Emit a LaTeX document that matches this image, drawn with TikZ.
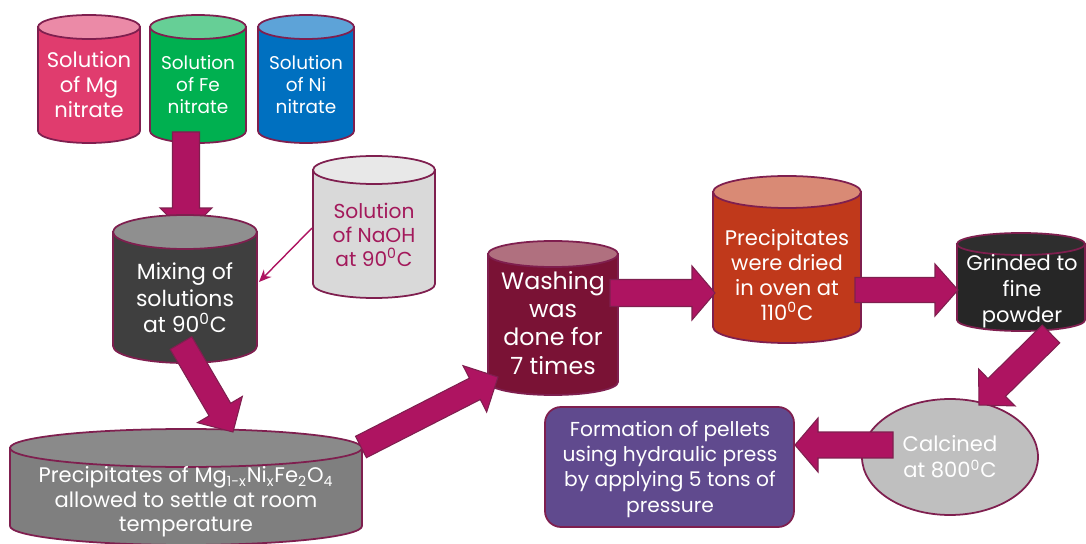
\documentclass[tikz,border=0pt]{standalone}
\usepackage{fontspec}
\setmainfont{Poppins}
\usetikzlibrary{calc,arrows.meta}
\definecolor{edge}{HTML}{7F1F4F}
\definecolor{arr}{HTML}{AE1461}
\definecolor{mgB}{HTML}{E03C6E}\definecolor{mgT}{HTML}{EB8AA7}
\definecolor{feB}{HTML}{00B050}\definecolor{feT}{HTML}{66CF96}
\definecolor{niB}{HTML}{0070C0}\definecolor{niT}{HTML}{5DA3D8}
\definecolor{mixB}{HTML}{3F3F3F}\definecolor{mixT}{HTML}{8F8F8F}
\definecolor{naB}{HTML}{D9D9D9}\definecolor{naT}{HTML}{E8E8E8}
\definecolor{naTxt}{HTML}{A3195B}
\definecolor{prB}{HTML}{7F7F7F}\definecolor{prT}{HTML}{8A8A8A}
\definecolor{waB}{HTML}{7A1235}\definecolor{waT}{HTML}{B0707F}
\definecolor{drB}{HTML}{C0391B}\definecolor{drT}{HTML}{D98A75}
\definecolor{grB}{HTML}{262626}\definecolor{grT}{HTML}{2E2E2E}
\definecolor{caB}{HTML}{BFBFBF}
\definecolor{foB}{HTML}{604A8E}
\tikzset{
  lbl/.style={align=center,text=white,inner sep=0pt},
  blockarrow/.style={fill=arr,draw=edge,line width=0.6pt,line join=miter},
  shapeline/.style={draw=edge,line width=1pt},
}
% cylinder: cx, ytop, ybottom, rx, ry, body colour, top colour
\newcommand\cyl[7]{%
  \filldraw[shapeline,fill=#6] (#1-#4,-#2) -- (#1-#4,-#3)
     arc[start angle=180,end angle=360,x radius=#4,y radius=#5] -- (#1+#4,-#2) -- cycle;
  \filldraw[shapeline,fill=#7] (#1,-#2) ellipse[x radius=#4,y radius=#5];
}
% block arrow: from, to, half shaft, half head, head length
\newcommand\barrow[5]{%
  \path ($(#2)!#5!(#1)$) coordinate (bh);
  \filldraw[blockarrow] ($(#1)!#3!90:(#2)$) -- ($(bh)!#3!90:(#2)$) -- ($(bh)!#4!90:(#2)$)
     -- (#2) -- ($(bh)!#4!-90:(#2)$) -- ($(bh)!#3!-90:(#2)$) -- ($(#1)!#3!-90:(#2)$) -- cycle;
}
\begin{document}
\begin{tikzpicture}[x=0.02cm,y=0.02cm]
\fill[white] (0,0) rectangle (1086,-544);
\useasboundingbox (0,0) rectangle (1086,-544);

% coordinates for connectors
\coordinate (feOut) at (186,-132);
\coordinate (mixIn) at (186,-234);
\coordinate (mixOut) at (181,-343);
\coordinate (prIn) at (233,-432);
\coordinate (prOut) at (361,-447);
\coordinate (waIn) at (498,-377);
\coordinate (waOut) at (610,-293);
\coordinate (drIn) at (715,-293);
\coordinate (drOut) at (855,-290);
\coordinate (grIn) at (958,-290);
\coordinate (grOut) at (1051,-334);
\coordinate (caIn) at (979,-405);
\coordinate (caOut) at (893,-445);
\coordinate (foIn) at (795,-445);
\coordinate (naOut) at (312,-228);
\coordinate (mixSide) at (259,-282);

% top cylinders
\cyl{89}{27}{131}{51}{12}{mgB}{mgT}
\cyl{198}{27}{131}{48}{12}{feB}{feT}
\cyl{306}{27}{131}{48}{12}{niB}{niT}
\node[lbl,font=\fontsize{12}{14.2}\selectfont] (mg) at (89,-85) {Solution\\of Mg\\nitrate};
\node[lbl,font=\fontsize{10.5}{12.5}\selectfont] (fe) at (198,-85) {Solution\\of Fe\\nitrate};
\node[lbl,font=\fontsize{10.5}{12.5}\selectfont] (ni) at (306,-85) {Solution\\of Ni\\nitrate};

% arrow Fe -> Mixing (behind mixing cylinder)
\barrow{feOut}{mixIn}{0.27cm}{0.52cm}{0.52cm}

% mixing
\cyl{185}{232}{346}{72}{17}{mixB}{mixT}
\node[lbl,font=\fontsize{12.5}{15}\selectfont] (mix) at (185,-298) {Mixing of\\solutions\\at 90\textsuperscript{0}C};

% NaOH
\cyl{374}{170}{284}{61}{14}{naB}{naT}
\node[lbl,text=naTxt,font=\fontsize{11.5}{13.6}\selectfont] (naoh) at (374,-235) {Solution\\of NaOH\\at 90\textsuperscript{0}C};
\draw[arr,line width=0.8pt,-{Stealth[length=7pt,width=6pt]}] (naOut) -- (mixSide);

% precipitates
\cyl{186}{448}{526}{176}{19}{prB}{prT}
\node[lbl,font=\fontsize{12}{13.9}\selectfont] (prec) at (186,-502) {Precipitates of Mg\textsubscript{1-x}Ni\textsubscript{x}Fe\textsubscript{2}O\textsubscript{4}\\allowed to settle at room\\temperature};

% washing
\cyl{553}{254}{382}{65}{13}{waB}{waT}
\node[lbl,font=\fontsize{13.5}{16}\selectfont] (wash) at (553,-323) {Washing\\was\\done for\\7 times};

% dried
\cyl{787}{192}{327}{74}{16}{drB}{drT}
\node[lbl,font=\fontsize{12}{14.2}\selectfont] (dried) at (787,-275) {Precipitates\\were dried\\in oven at\\110\textsuperscript{0}C};

% grinded
\cyl{1021}{244}{320}{64}{11}{grB}{grT}
\node[lbl,font=\fontsize{12}{14.7}\selectfont] (grind) at (1022,-291) {Grinded to\\fine\\powder};

% calcined
\filldraw[shapeline,fill=caB] (950,-457) ellipse[x radius=88,y radius=58];
\node[lbl,font=\fontsize{12}{14.7}\selectfont] (calc) at (950,-457) {Calcined\\at 800\textsuperscript{0}C};

% formation
\filldraw[shapeline,fill=foB,rounded corners=0.32cm] (545,-407) rectangle (794,-527);
\node[lbl,font=\fontsize{11.5}{14.4}\selectfont] (form) at (670,-469) {Formation of pellets\\using hydraulic press\\by applying 5 tons of\\pressure};

% block arrows
\barrow{mixOut}{prIn}{0.25cm}{0.52cm}{0.52cm}
\barrow{prOut}{waIn}{0.24cm}{0.52cm}{0.52cm}
\barrow{waOut}{drIn}{0.27cm}{0.54cm}{0.46cm}
\barrow{drOut}{grIn}{0.25cm}{0.52cm}{0.46cm}
\barrow{grOut}{caIn}{0.25cm}{0.52cm}{0.5cm}
\barrow{caOut}{foIn}{0.26cm}{0.54cm}{0.46cm}
\end{tikzpicture}
\end{document}
